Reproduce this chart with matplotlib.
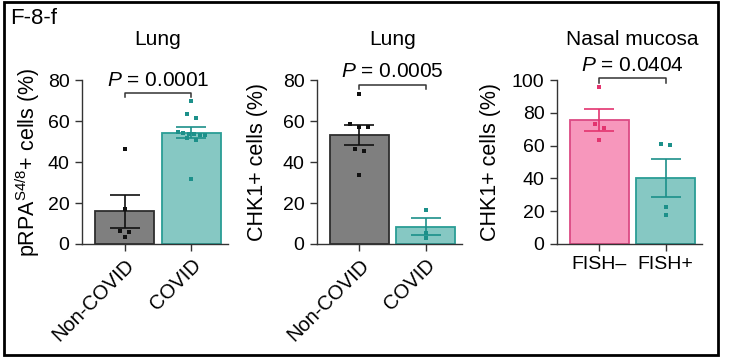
import matplotlib
matplotlib.use("Agg")
import matplotlib.pyplot as plt
from matplotlib.patches import Rectangle
import numpy as np

plt.rcParams['font.family'] = ['Liberation Sans', 'DejaVu Sans']
plt.rcParams['mathtext.fontset'] = 'custom'
plt.rcParams['mathtext.rm'] = 'Liberation Sans'
plt.rcParams['mathtext.it'] = 'Liberation Sans:italic'

# data
lung_rpa_noncovid = [46.5, 17.2, 6.3, 5.7, 3.6]
lung_rpa_covid = [69.6, 63.3, 61.3, 54.4, 54.1, 53.9, 53.6, 53.3, 53.0, 51.9, 50.7, 31.8]
lung_chk1_noncovid = [73.2, 58.7, 57.2, 57.2, 46.3, 45.5, 33.5]
lung_chk1_covid = [16.6, 5.6, 3.0]
nasal_chk1_fishneg = [95.5, 73.2, 70.5, 63.6]
nasal_chk1_fishpos = [60.2, 61.0, 22.4, 17.5]

lung_groups = ["Non-COVID", "COVID"]
nasal_groups = ["FISH\u2013", "FISH+"]
titles = ["Lung", "Lung", "Nasal mucosa"]
ylabels = ["pRPA$^{\\mathregular{S4/8}}$+ cells (%)", "CHK1+ cells (%)", "CHK1+ cells (%)"]
pvalues = ["0.0001", "0.0005", "0.0404"]

GRAY, GRAY_EDGE, BLACK = "#7f7f7f", "#2e2e2e", "#111111"
TEAL, TEAL_EDGE, TEAL_DOT = "#86c8c3", "#2a9d95", "#1c908a"
PINK, PINK_EDGE, PINK_DOT = "#f797bc", "#dc4a84", "#e3346f"

W, H = 732, 362
XL = (-0.64, 1.55)
fig = plt.figure(figsize=(W / 100, H / 100), dpi=100)


def rows_swarm(vals, ax, thresh=5.0):
    # group points of nearly equal value into rows (top down), centre each row
    pos = ax.get_position()
    x0, x1 = ax.get_xlim()
    y0, y1 = ax.get_ylim()
    xpx = pos.width * W / (x1 - x0)
    ypx = pos.height * H / (y1 - y0)
    order = np.argsort(vals)[::-1]
    offs = np.zeros(len(vals))
    row = []
    for i in list(order) + [None]:
        if i is not None and row and (vals[row[0]] - vals[i]) * ypx <= thresh:
            row.append(i)
            continue
        if row:
            n = len(row)
            step = 9.0 if n <= 3 else 5.5
            for j, r in enumerate(row):
                offs[r] = (j - (n - 1) / 2) * step / xpx
        row = [i] if i is not None else []
    return offs


panels = [
    dict(rect=[82, 228], data=[lung_rpa_noncovid, lung_rpa_covid], groups=lung_groups,
         fills=[GRAY, TEAL], edges=[GRAY_EDGE, TEAL_EDGE], dots=[BLACK, TEAL_DOT],
         ymax=80, rot=True, bracket=(71.9, 73.8), ptxt=1.0, ylab=-0.274),
    dict(rect=[317, 462], data=[lung_chk1_noncovid, lung_chk1_covid], groups=lung_groups,
         fills=[GRAY, TEAL], edges=[GRAY_EDGE, TEAL_EDGE], dots=[BLACK, TEAL_DOT],
         ymax=80, rot=True, bracket=(75.6, 77.7), ptxt=1.05, ylab=-0.338),
    dict(rect=[557, 702], data=[nasal_chk1_fishneg, nasal_chk1_fishpos], groups=nasal_groups,
         fills=[PINK, TEAL], edges=[PINK_EDGE, TEAL_EDGE], dots=[PINK_DOT, TEAL_DOT],
         ymax=100, rot=False, bracket=(98.4, 101.2), ptxt=1.09, ylab=-0.386),
]

xmid = (0.5 - XL[0]) / (XL[1] - XL[0])

for k, p in enumerate(panels):
    left, right = p["rect"]
    ax = fig.add_axes([left / W, 1 - 244 / H, (right - left) / W, 164 / H])
    ax.set_xlim(*XL)
    ax.set_ylim(0, p["ymax"])
    for i, vals in enumerate(p["data"]):
        vals = np.array(vals)
        m = vals.mean()
        sem = vals.std(ddof=1) / np.sqrt(len(vals))
        ax.bar(i, m, width=0.88, color=p["fills"][i], edgecolor=p["edges"][i],
               linewidth=1.3, zorder=2)
        ax.errorbar(i, m, yerr=sem, color=p["dots"][i], capsize=11, elinewidth=1.2,
                    capthick=1.2, zorder=3)
        offs = rows_swarm(vals, ax)
        ax.scatter(i + offs, vals, marker="s", s=12, color=p["dots"][i],
                   linewidths=0, zorder=4, clip_on=False)

    lo, hi = p["bracket"]
    ax.plot([0, 0, 1, 1], [lo, hi, hi, lo], color="#333333", lw=1.1, clip_on=False)
    ax.text(xmid, p["ptxt"], "$\\it{P}$ = " + pvalues[k], transform=ax.transAxes,
            ha="center", va="center", fontsize=15)
    ax.text(xmid, 1.244, titles[k], transform=ax.transAxes,
            ha="center", va="center", fontsize=15)

    ax.set_yticks(np.arange(0, p["ymax"] + 1, 20))
    ax.set_xticks([0, 1])
    if p["rot"]:
        ax.set_xticklabels(p["groups"], rotation=45, ha="right", va="top",
                           rotation_mode="anchor", fontsize=14.5)
    else:
        ax.set_xticklabels(p["groups"], fontsize=14)
    ax.tick_params(axis="y", labelsize=14, length=5, width=1, color="#333333", pad=4)
    ax.tick_params(axis="x", length=5, width=1, color="#333333")
    ax.set_ylabel(ylabels[k], fontsize=15.5)
    ax.yaxis.set_label_coords(p["ylab"], 0.5)
    for s in ["top", "right"]:
        ax.spines[s].set_visible(False)
    for s in ["left", "bottom"]:
        ax.spines[s].set_color("#333333")
        ax.spines[s].set_linewidth(1)

fig.text(10 / W, 1 - 18 / H, "F-8-f", fontsize=16, ha="left", va="center")
fig.patches.append(Rectangle((4 / W, 7 / H), 714 / W, 353 / H, transform=fig.transFigure,
                             fill=False, edgecolor="black", linewidth=2))

fig.savefig("out.png", dpi=100)
